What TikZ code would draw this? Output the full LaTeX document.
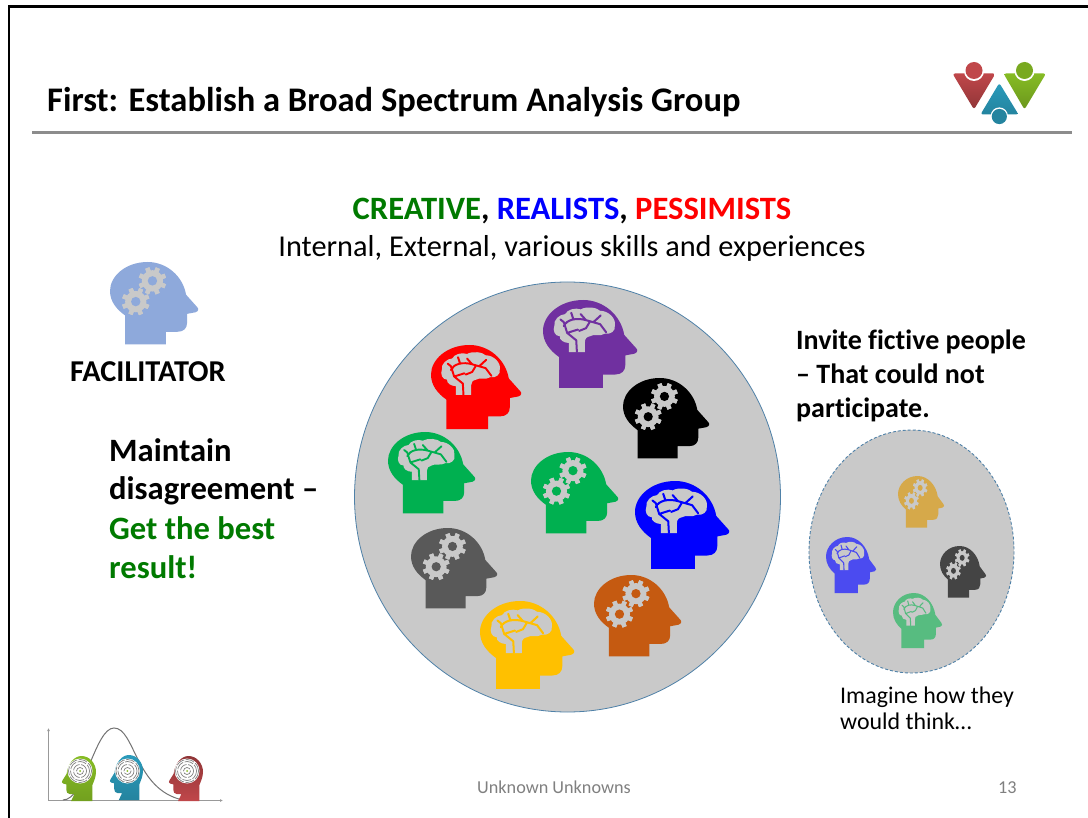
\documentclass[tikz,border=0pt]{standalone}
\usepackage{fontspec}
\usetikzlibrary{arrows.meta}
\setmainfont[Ligatures=NoCommon]{Carlito}
\definecolor{ringblue}{HTML}{4F81A8}
\definecolor{discgrey}{HTML}{C9C9C9}
\definecolor{rulegrey}{HTML}{8C8C8C}
\definecolor{facil}{HTML}{8EA9DB}
\definecolor{hpurple}{HTML}{7030A0}
\definecolor{hgreen}{HTML}{00B050}
\definecolor{hgrey}{HTML}{595959}
\definecolor{horange}{HTML}{C55A11}
\definecolor{hyellow}{HTML}{FFC000}
\definecolor{hgold}{HTML}{D6A94A}
\definecolor{hblue}{HTML}{4B4BF0}
\definecolor{hdark}{HTML}{444444}
\definecolor{hmint}{HTML}{57BC80}
\definecolor{txtgreen}{HTML}{007A00}
\definecolor{logored}{HTML}{C0474A}
\definecolor{logogreen}{HTML}{86BC24}
\definecolor{logoblue}{HTML}{2A9BBB}
\tikzset{
  title/.style={anchor=base west,font=\fontsize{34.5}{34.5}\selectfont\bfseries,inner sep=0},
  big/.style={anchor=base west,font=\fontsize{32.6}{32.6}\selectfont\bfseries,inner sep=0},
  mid/.style={anchor=base west,font=\fontsize{28}{28}\selectfont\bfseries,inner sep=0},
  small/.style={anchor=base west,font=\fontsize{23.9}{23.9}\selectfont,inner sep=0},
  foot/.style={anchor=base west,font=\fontsize{18.2}{18.2}\selectfont,text=gray,inner sep=0},
}
\newcommand{\headoutline}{(48,262) -- (178,262) -- (178,222) -- (215,222)
      .. controls (235,222) and (245,210) .. (245,195)
      -- (245,165) -- (272,160)
      .. controls (283,156) and (283,148) .. (276,142)
      -- (242,104)
      .. controls (232,45) and (180,0) .. (120,0)
      .. controls (50,0) and (0,45) .. (0,92)
      .. controls (0,125) and (20,150) .. (48,170) -- cycle}
% gear: centre x,y, head colour
\newcommand{\cog}[3]{%
  \foreach \a in {0,45,...,315}{\fill[discgrey,rotate around={\a+22:(#1,#2)}] (#1-7,#2-44) rectangle (#1+7,#2+44);}
  \fill[discgrey] (#1,#2) circle[radius=34];
  \fill[#3] (#1,#2) circle[radius=15];}
% vertical stretch of the heads that follow
\newcommand{\headys}{1}
% #1 left, #2 top, #3 width, #4 colour
\newcommand{\gearhead}[4]{%
  \pgfmathsetmacro{\hs}{#3/280}
  \begin{scope}[shift={(#1,#2)},scale=\hs,yscale=\headys]
    \fill[#4] \headoutline;
    \cog{135}{60}{#4}
    \cog{82}{126}{#4}
  \end{scope}}
\newcommand{\brainhead}[4]{%
  \pgfmathsetmacro{\hs}{#3/280}
  \pgfmathsetmacro{\lw}{6*\hs}
  \begin{scope}[shift={(#1,#2)},scale=\hs,yscale=\headys]
    \fill[#4] \headoutline;
    \fill[discgrey] (77,155) -- (77,128)
      .. controls (62,128) and (48,118) .. (50,108)
      .. controls (35,108) and (28,90) .. (34,76)
      .. controls (30,60) and (50,42) .. (66,42)
      .. controls (72,28) and (98,22) .. (112,28)
      .. controls (130,18) and (160,22) .. (170,32)
      .. controls (195,32) and (218,55) .. (214,75)
      .. controls (218,92) and (200,104) .. (185,100)
      .. controls (170,110) and (150,100) .. (140,108)
      .. controls (130,110) and (125,115) .. (125,125)
      -- (125,155) -- cycle;
    \draw[#4,line width=\lw pt,line cap=round,line join=round]
      (101,155) -- (99,120) -- (72,98) -- (62,66)
      (72,98) -- (104,88)
      (62,66) -- (52,58)
      (62,78) .. controls (70,58) and (100,52) .. (128,60) -- (170,72) -- (188,96)
      (128,60) -- (112,42)
      (140,64) -- (128,84) -- (108,92)
      (150,66) -- (172,46)
      (90,56) -- (84,38);
  \end{scope}}
% maze head facing left: #1 left, #2 top, #3 width, #4 top colour, #5 bottom colour
\newcommand{\mazehead}[5]{%
  \begin{scope}[shift={(#1+#3,#2)},xscale=-#3/280,yscale=45/262]
    \shade[top color=#4,bottom color=#5] (30,262) -- (205,262) -- (178,222) -- (215,222)
      .. controls (235,222) and (245,210) .. (245,195)
      -- (245,165) -- (272,160)
      .. controls (283,156) and (283,148) .. (276,142)
      -- (242,104)
      .. controls (232,45) and (180,0) .. (120,0)
      .. controls (50,0) and (0,45) .. (0,92)
      .. controls (0,125) and (20,150) .. (30,170) -- cycle;
  \end{scope}
  \pgfmathsetmacro{\mx}{#1+#3*0.53}
  \fill[white] (\mx,771) circle[radius=12.5];
  \foreach \r in {3.5,6.5,9.5,11.5}{\draw[gray,line width=0.7pt,dash pattern=on 9pt off 1.5pt] (\mx,771) circle[radius=\r];}
  \fill[logogreen] (\mx,771) circle[radius=1];}
\begin{document}
\begin{tikzpicture}[x=1pt,y=-1pt]
\useasboundingbox (0,0) rectangle (1088,818);
\fill[white] (0,0) rectangle (1088,818);
% slide frame and title rule
\draw[black,line width=2.5pt] (9,818) -- (9,6.5) -- (1088,6.5);
\draw[rulegrey,line width=2.4pt] (32,132.5) -- (1072,132.5);

\node[title] (title) at (47,112) {First: Establish a Broad Spectrum Analysis Group};

% logo
\begin{scope}
  \shade[top color=logored,bottom color=logored!75!black,rounded corners=2.5pt] (952.5,73.5) -- (995.5,73.5) -- (974,109.5) -- cycle;
  \shade[top color=logogreen,bottom color=logogreen!80!black,rounded corners=2.5pt] (1003.5,73.5) -- (1046,73.5) -- (1024.5,109.5) -- cycle;
  \fill[white] (974,71) circle[radius=10];
  \fill[white] (1024.5,71) circle[radius=10];
  \fill[logored] (974,70.5) circle[radius=8.5];
  \fill[logogreen!90!black] (1024.5,70.5) circle[radius=8.5];
  \shade[top color=logoblue,bottom color=logoblue!85!black,rounded corners=2.5pt] (999.3,83) -- (1018.5,114.5) -- (980.5,114.5) -- cycle;
  \fill[white] (999.3,116) circle[radius=8.6];
  \fill[logoblue!85!black] (999.3,116.5) circle[radius=7.6];
\end{scope}

% heading
\node[anchor=base,inner sep=0,font=\fontsize{32.6}{32.6}\selectfont\bfseries] (types) at (572,220)
  {\textcolor{txtgreen}{CREATIVE}, \textcolor{blue}{REALISTS}, \textcolor{red}{PESSIMISTS}};
\node[anchor=base,inner sep=0,font=\fontsize{30.3}{30.3}\selectfont] (sub) at (572,257)
  {Internal, External, various skills and experiences};

% facilitator
\gearhead{110}{262}{88}{facil}
\node[anchor=base west,inner sep=0,font=\fontsize{30.3}{30.3}\selectfont\bfseries] (facilt) at (70,382) {FACILITATOR};
\node[big] (m1) at (109,461) {Maintain};
\node[big] (m2) at (109,500) {disagreement –};
\node[big,text=txtgreen] (m3) at (109,539) {Get the best};
\node[big,text=txtgreen] (m4) at (109,578) {result!};

% large disc
\draw[ringblue,line width=0.8pt,fill=discgrey] (567.5,497) ellipse[x radius=213,y radius=215];
\brainhead{543}{300}{94}{hpurple}
\brainhead{431}{345}{90}{red}
\gearhead{623}{378}{86}{black}
\brainhead{388}{432}{87}{hgreen}
\gearhead{531}{452}{87}{hgreen}
\brainhead{635}{481}{94}{blue}
\gearhead{411}{528}{86}{hgrey}
\gearhead{594}{575}{87}{horange}
\brainhead{480}{601}{94}{hyellow}

% right-hand text
\node[mid] (i1) at (796,350) {Invite fictive people};
\node[mid] (i2) at (796,384) {– That could not};
\node[mid] (i3) at (796,418) {participate.};

% small disc
\draw[ringblue,line width=0.9pt,densely dashed,fill=discgrey] (911.5,551.5) ellipse[x radius=102.5,y radius=121.5];
\renewcommand{\headys}{1.2}
\gearhead{898}{476}{46}{hgold}
\brainhead{826}{537}{50}{hblue}
\gearhead{940}{546}{46}{hdark}
\brainhead{893}{593}{49}{hmint}
\node[small] (t1) at (840,703) {Imagine how they};
\node[small] (t2) at (840,729) {would think…};

% bell-curve graphic
\coordinate (ax0) at (48.5,800.5);
\coordinate (axy) at (48.5,728);
\coordinate (axx) at (223,800.5);
\draw[gray!80,line width=1pt,-{Latex[length=3pt,width=3pt]}] (ax0) -- (axy);
\draw[gray!80,line width=1pt,-{Latex[length=3pt,width=3pt]}] (ax0) -- (axx);
\draw[gray!90!black,line width=1pt] (63,800) .. controls (85,800) and (95,728) .. (114,728)
   .. controls (135,728) and (135,790) .. (183,800);
\mazehead{62}{756}{34}{logogreen}{logogreen!85!black}
\mazehead{110}{755}{33}{logoblue}{logoblue!85!black}
\mazehead{169}{756}{34}{logored!75!black}{logored}

% footer
\node[foot] (f1) at (477,793) {Unknown Unknowns};
\node[foot] (f2) at (998,793) {13};
\end{tikzpicture}
\end{document}
